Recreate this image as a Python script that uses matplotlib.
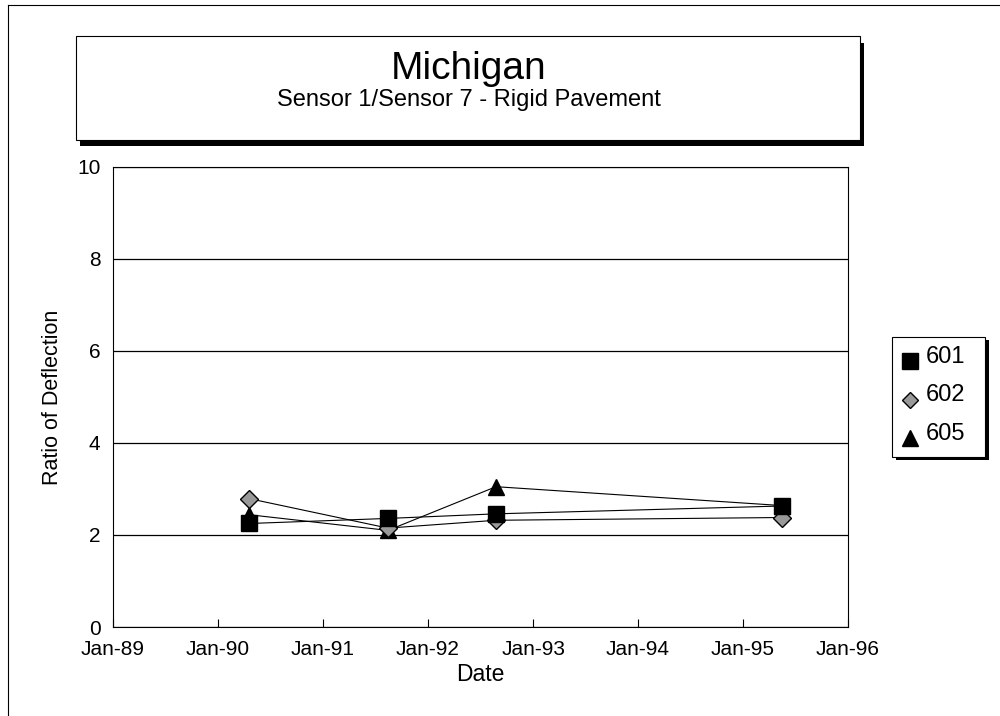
import datetime as dt
import matplotlib
matplotlib.use("Agg")
import matplotlib.pyplot as plt
import matplotlib.dates as mdates
from matplotlib.patches import Rectangle
from matplotlib.lines import Line2D

plt.rcParams['font.family'] = ['Liberation Sans', 'DejaVu Sans']

# --- data ---
dates = [dt.datetime(1990, 4, 20), dt.datetime(1991, 8, 15),
         dt.datetime(1992, 8, 25), dt.datetime(1995, 5, 15)]
s601 = [2.25, 2.36, 2.46, 2.63]
s602 = [2.79, 2.15, 2.32, 2.38]
s605 = [2.44, 2.10, 3.05, 2.64]
series_names = ['601', '602', '605']
year_ticks = [dt.datetime(y, 1, 1) for y in range(1989, 1997)]

fig = plt.figure(figsize=(10, 7.16), dpi=100)
ax = fig.add_axes([0.113, 0.1243, 0.735, 0.6425])

ax.plot(dates, s605, color='black', lw=0.8, marker='^', ms=12,
        mfc='black', mec='black', zorder=3)
ax.plot(dates, s602, color='black', lw=0.8, marker='D', ms=9,
        mfc='#999999', mec='black', mew=1.0, zorder=4)
ax.plot(dates, s601, color='black', lw=0.8, marker='s', ms=11,
        mfc='black', mec='black', zorder=5)

ax.set_ylim(0, 10)
ax.set_yticks([0, 2, 4, 6, 8, 10])
ax.set_xlim(year_ticks[0], year_ticks[-1])
ax.set_xticks(year_ticks)
ax.xaxis.set_major_formatter(mdates.DateFormatter('%b-%y'))
ax.yaxis.grid(True, color='black', lw=0.9)
ax.set_axisbelow(True)
for sp in ax.spines.values():
    sp.set_linewidth(0.8)
ax.tick_params(axis='x', labelsize=15, length=6, width=0.8, direction='in', pad=9)
ax.tick_params(axis='y', labelsize=15, length=0, pad=9)
ax.set_xlabel('Date', fontsize=16.5, labelpad=3)
ax.set_ylabel('Ratio of Deflection', fontsize=15.5, labelpad=10)

# title box with shadow
fig.patches.append(Rectangle((0.080, 0.7955), 0.784, 0.145, transform=fig.transFigure,
                             facecolor='black', edgecolor='none', zorder=1))
fig.patches.append(Rectangle((0.076, 0.8045), 0.784, 0.145, transform=fig.transFigure,
                             facecolor='white', edgecolor='black', lw=0.8, zorder=2))
fig.text(0.469, 0.904, 'Michigan', fontsize=28, ha='center', va='center', zorder=3)
fig.text(0.469, 0.860, 'Sensor 1/Sensor 7 - Rigid Pavement', fontsize=17,
         ha='center', va='center', zorder=3)

# legend box with shadow
fig.patches.append(Rectangle((0.896, 0.357), 0.093, 0.168, transform=fig.transFigure,
                             facecolor='black', edgecolor='none', zorder=1))
fig.patches.append(Rectangle((0.892, 0.362), 0.093, 0.168, transform=fig.transFigure,
                             facecolor='white', edgecolor='black', lw=0.8, zorder=2))
styles = [dict(marker='s', ms=11, mfc='black'),
          dict(marker='D', ms=8, mfc='#999999'),
          dict(marker='^', ms=12, mfc='black')]
for i, (name, st) in enumerate(zip(series_names, styles)):
    yy = 0.496 - i * 0.054
    fig.add_artist(Line2D([0.910], [yy], transform=fig.transFigure, color='black',
                          mec='black', lw=0, zorder=3, **st))
    fig.text(0.926, yy + 0.006, name, fontsize=17, ha='left', va='center', zorder=3)

# page border (top and left)
fig.add_artist(Line2D([0.008, 1.0], [0.993, 0.993], transform=fig.transFigure,
                      color='black', lw=0.8))
fig.add_artist(Line2D([0.008, 0.008], [0.0, 0.993], transform=fig.transFigure,
                      color='black', lw=0.8))

fig.savefig('out.png', dpi=100)
